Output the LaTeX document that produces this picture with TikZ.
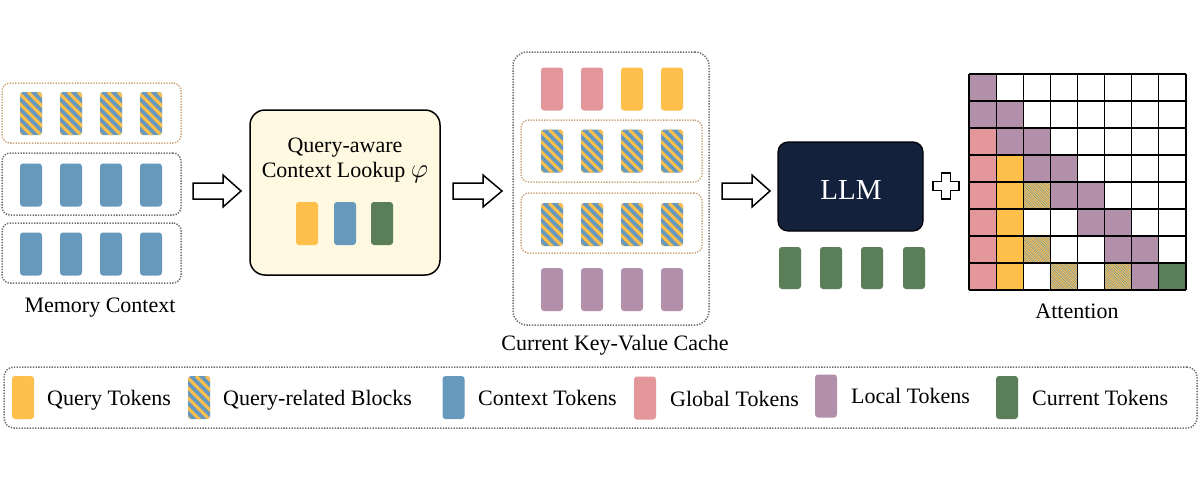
\documentclass[tikz,border=0pt]{standalone}
\usepackage{fontspec}
\setmainfont{Liberation Serif}
\definecolor{cyel}{HTML}{FEBF4B}
\definecolor{cblue}{HTML}{6699BC}
\definecolor{cpink}{HTML}{E4979A}
\definecolor{cpurp}{HTML}{B290A9}
\definecolor{cgreen}{HTML}{5A7E58}
\definecolor{navy}{HTML}{14213D}
\definecolor{beige}{HTML}{FEF9E0}
\definecolor{tan}{HTML}{C9A47A}
\definecolor{dotgray}{HTML}{6A6A6A}
\begin{document}
\begin{tikzpicture}[x=1pt,y=-1pt,
  tok/.style={rectangle, rounded corners=3pt, minimum width=22pt, minimum height=43pt, inner sep=0pt, draw=none},
  yt/.style={tok, fill=cyel},
  bt/.style={tok, fill=cblue},
  pkt/.style={tok, fill=cpink},
  put/.style={tok, fill=cpurp},
  gt/.style={tok, fill=cgreen},
  st/.style={tok, fill=cblue, path picture={
      \foreach \k in {-52,-42,...,28}{
        \draw[cyel, line width=3pt] ([xshift=\k pt]path picture bounding box.north west) -- ++(50pt,-50pt);
      }}},
  dbox/.style={draw=dotgray, dash pattern=on 1.3pt off 1.4pt, line width=1.5pt, rounded corners=8pt, inner sep=0pt},
  tbox/.style={draw=tan, dash pattern=on 1.3pt off 1.4pt, line width=1.5pt, rounded corners=8pt, inner sep=0pt},
  lbl/.style={font=\fontsize{22}{26}\selectfont, inner sep=0pt},
  blockarrow/.style={draw=black, fill=white, line width=1.5pt, line join=miter},
  gridline/.style={draw=black, line width=1.2pt}
]
\useasboundingbox (0,0) rectangle (1200,480);
\fill[white] (0,0) rectangle (1200,480);

% ---------------- Memory Context ----------------
\node[tbox, minimum width=179pt, minimum height=60pt] (mem1) at (91.5,113) {};
\node[dbox, minimum width=179pt, minimum height=62pt] (mem2) at (91.5,184) {};
\node[dbox, minimum width=179pt, minimum height=60pt] (mem3) at (91.5,253) {};
\foreach \x [count=\i] in {31,71,111,151}{
  \node[st] (m1\i) at (\x,113.5) {};
  \node[bt] (m2\i) at (\x,185) {};
  \node[bt] (m3\i) at (\x,254) {};
}
\node[lbl, anchor=base] (memlbl) at (100,312) {Memory Context};

% arrow 1
\draw[blockarrow] (193,183) -- (223,183) -- (223,175) -- (241,191) -- (223,207) -- (223,199) -- (193,199) -- cycle;

% ---------------- Query-aware lookup ----------------
\node[draw=black, fill=beige, line width=1.5pt, rounded corners=15pt, minimum width=190pt, minimum height=165pt, inner sep=0pt] (qbox) at (345,192.5) {};
\node[lbl, anchor=base] (qt1) at (345,152) {Query-aware};
\node[lbl, anchor=base] (qt2) at (345,177) {Context Lookup \scalebox{1.3}{$\varphi$}};
\node[yt] (q1) at (307,223.5) {};
\node[bt] (q2) at (345,223.5) {};
\node[gt] (q3) at (382,223.5) {};

% arrow 2
\draw[blockarrow] (453,183) -- (483,183) -- (483,175) -- (502,191) -- (483,207) -- (483,199) -- (453,199) -- cycle;

% ---------------- KV cache ----------------
\node[dbox, rounded corners=14pt, minimum width=196pt, minimum height=273pt] (kv) at (611,188.5) {};
\node[tbox, minimum width=181pt, minimum height=62pt] (kvb1) at (611.5,151) {};
\node[tbox, minimum width=181pt, minimum height=60pt] (kvb2) at (611.5,223) {};
\node[pkt] (k11) at (552,89) {};
\node[pkt] (k12) at (592,89) {};
\node[yt] (k13) at (632,89) {};
\node[yt] (k14) at (672,89) {};
\foreach \x [count=\i] in {552,592,632,672}{
  \node[st] (k2\i) at (\x,151) {};
  \node[st] (k3\i) at (\x,224.5) {};
  \node[put] (k4\i) at (\x,289.5) {};
}
\node[lbl, anchor=base] (kvlbl) at (615,350) {Current Key-Value Cache};

% arrow 3
\draw[blockarrow] (722,183) -- (752,183) -- (752,175) -- (770,191) -- (752,207) -- (752,199) -- (722,199) -- cycle;

% ---------------- LLM ----------------
\node[draw=black, fill=navy, line width=1.2pt, rounded corners=10pt, minimum width=145pt, minimum height=89pt, inner sep=0pt] (llm) at (850.5,186.5) {};
\node[lbl, font=\fontsize{29}{32}\selectfont, text=white, anchor=base] (llmt) at (851,199) {LLM};
\foreach \x [count=\i] in {790,831,872,914}{
  \node[gt, minimum height=42pt] (c\i) at (\x,268) {};
}

% plus
\draw[blockarrow] (941.5,173) -- (950.5,173) -- (950.5,181.5) -- (959,181.5) -- (959,190.5) -- (950.5,190.5) -- (950.5,199) -- (941.5,199) -- (941.5,190.5) -- (933,190.5) -- (933,181.5) -- (941.5,181.5) -- cycle;

% ---------------- Attention grid ----------------
\foreach \c/\r/\col in {0/0/cpurp, 0/1/cpurp, 1/1/cpurp, 0/2/cpink, 1/2/cpurp, 2/2/cpurp,
  0/3/cpink, 1/3/cyel, 2/3/cpurp, 3/3/cpurp, 0/4/cpink, 1/4/cyel, 3/4/cpurp, 4/4/cpurp,
  0/5/cpink, 1/5/cyel, 4/5/cpurp, 5/5/cpurp, 0/6/cpink, 1/6/cyel, 5/6/cpurp, 6/6/cpurp,
  0/7/cpink, 1/7/cyel, 6/7/cpurp, 7/7/cgreen}{
  \fill[\col] (969+\c*27.125, 74+\r*27) rectangle ++(27.125,27);
}
\foreach \c/\r in {2/4, 2/6, 3/7, 5/7}{
  \begin{scope}
    \clip (969+\c*27.125, 74+\r*27) rectangle ++(27.125,27);
    \fill[cblue] (969+\c*27.125, 74+\r*27) rectangle ++(27.125,27);
    \foreach \k in {-28,-25.4,...,28}{
      \draw[cyel, line width=1pt] (969+\c*27.125+\k, 74+\r*27) -- ++(28,28);
    }
  \end{scope}
}
\foreach \i in {0,...,8}{
  \draw[gridline] (969+\i*27.125,74) -- (969+\i*27.125,290);
  \draw[gridline] (969,74+\i*27) -- (1186,74+\i*27);
}
\node[lbl, anchor=base] (attlbl) at (1077,318) {Attention};

% ---------------- Legend ----------------
\node[dbox, rounded corners=10pt, minimum width=1193pt, minimum height=61pt] (legend) at (600.5,397.5) {};
\node[yt] (l1) at (23,397.5) {};
\node[lbl, anchor=base west] (lt1) at (47,405) {Query Tokens};
\node[st] (l2) at (199,397.5) {};
\node[lbl, anchor=base west] (lt2) at (223,405) {Query-related Blocks};
\node[bt] (l3) at (453.5,397.5) {};
\node[lbl, anchor=base west] (lt3) at (478,405) {Context Tokens};
\node[pkt] (l4) at (645,398) {};
\node[lbl, anchor=base west] (lt4) at (670,406) {Global Tokens};
\node[put] (l5) at (826,396) {};
\node[lbl, anchor=base west] (lt5) at (851,403) {Local Tokens};
\node[gt] (l6) at (1007,397.5) {};
\node[lbl, anchor=base west] (lt6) at (1032,405) {Current Tokens};
\end{tikzpicture}
\end{document}
